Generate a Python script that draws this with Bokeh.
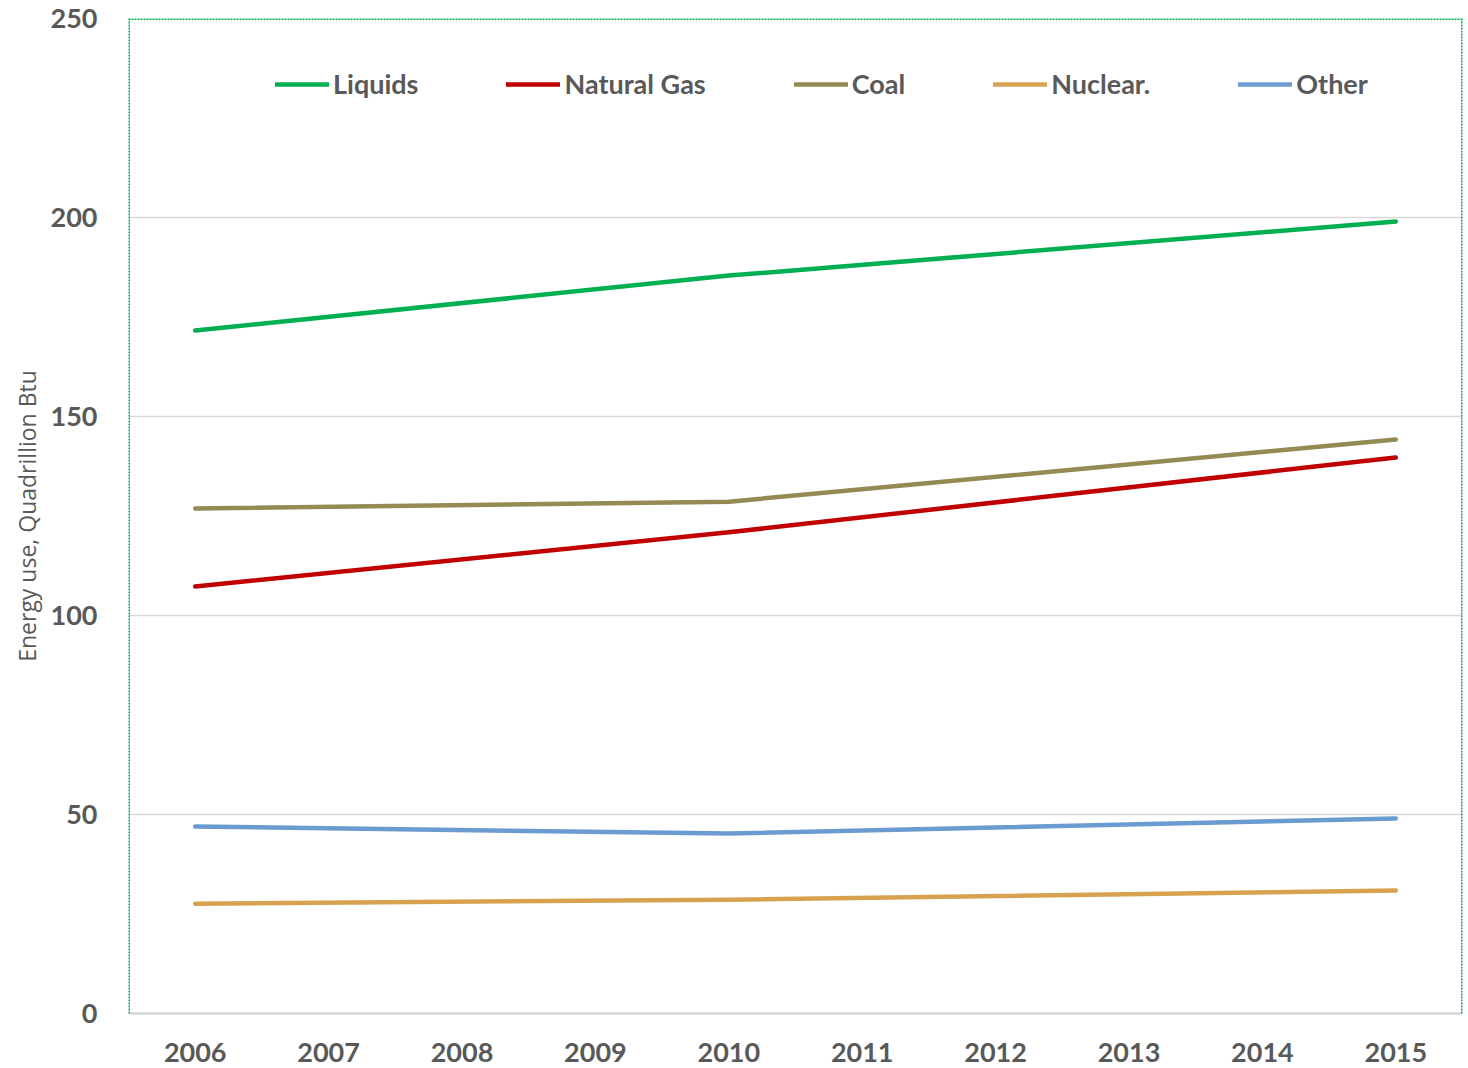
from bokeh.plotting import figure
from bokeh.models import FixedTicker, Span, Legend, LegendItem, ColumnDataSource
from bokeh.embed import file_html
from bokeh.resources import INLINE

years = ["2006", "2007", "2008", "2009", "2010", "2011", "2012", "2013", "2014", "2015"]
data_years = ["2006", "2010", "2015"]
liquids = [171.6, 185.4, 199.0]
natural_gas = [107.3, 120.9, 139.7]
coal = [126.9, 128.6, 144.2]
nuclear = [27.6, 28.6, 30.9]
other = [47.0, 45.2, 49.0]
series_names = ["Liquids", "Natural Gas", "Coal", "Nuclear.", "Other"]
series_values = [liquids, natural_gas, coal, nuclear, other]
colors = ["#00B050", "#C00000", "#948A54", "#D6A250", "#6C9BD2"]
y_ticks = [0, 50, 100, 150, 200, 250]

FONT = "Lato"
TXT = "#595959"

p = figure(width=1468, height=1068, x_range=years, y_range=(0, 250),
           output_backend="svg", toolbar_location=None,
           min_border_left=128, min_border_right=6, min_border_top=18, min_border_bottom=55)
p.outline_line_color = None
p.background_fill_color = "white"

items = []
for name, vals, c in zip(series_names, series_values, colors):
    src = ColumnDataSource(dict(x=data_years, y=vals))
    r = p.line("x", "y", source=src, line_color=c, line_width=4.5, line_cap="round", line_join="round")
    items.append(LegendItem(label=name, renderers=[r]))

legend = Legend(items=items, orientation="horizontal", location=(147, 913),
                glyph_width=54, glyph_height=20, label_standoff=4, spacing=88,
                padding=0, margin=0, border_line_color=None, background_fill_alpha=0,
                label_text_font=FONT, label_text_font_size="27px", label_text_font_style="bold",
                label_text_color=TXT)
p.add_layout(legend, "center")

# axes
p.yaxis.ticker = FixedTicker(ticks=y_ticks)
p.yaxis.axis_line_color = None
p.yaxis.major_tick_line_color = None
p.yaxis.minor_tick_line_color = None
p.yaxis.major_label_text_font = FONT
p.yaxis.major_label_text_font_size = "27px"
p.yaxis.major_label_text_font_style = "bold"
p.yaxis.major_label_text_color = TXT
p.yaxis.major_label_standoff = 25
p.yaxis.axis_label = "Energy use, Quadrillion Btu"
p.yaxis.axis_label_text_font = "Open Sans"
p.yaxis.axis_label_text_font_size = "23px"
p.yaxis.axis_label_text_font_style = "normal"
p.yaxis.axis_label_text_color = TXT
p.yaxis.axis_label_standoff = 5

p.xaxis.axis_line_color = "#C8D2CF"
p.xaxis.axis_line_width = 2
p.xaxis.major_tick_line_color = None
p.xaxis.minor_tick_line_color = None
p.xaxis.major_label_text_font = FONT
p.xaxis.major_label_text_font_size = "27px"
p.xaxis.major_label_text_font_style = "bold"
p.xaxis.major_label_text_color = TXT
p.xaxis.major_label_standoff = 23

p.xgrid.grid_line_color = None
p.ygrid.grid_line_color = "#D9D9D9"
p.ygrid.grid_line_width = 1.5

# green dotted border (left, top, right)
for loc, dim in [(0, "height"), (len(years), "height"), (250, "width")]:
    p.add_layout(Span(location=loc, dimension=dim, line_color="#00B050",
                      line_width=3, line_dash="2 1"))

open("out.html", "w").write(file_html(p, INLINE))
